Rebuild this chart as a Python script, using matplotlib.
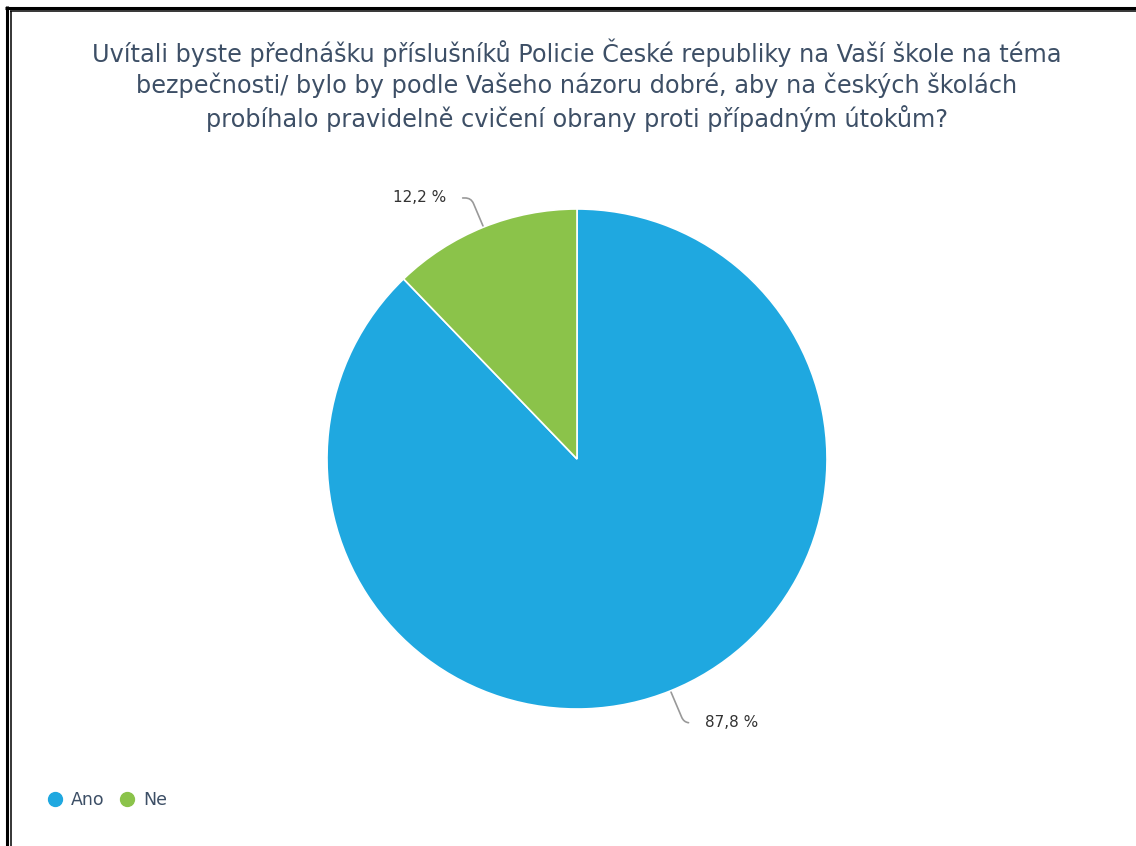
import numpy as np
import matplotlib.pyplot as plt
from matplotlib.lines import Line2D

# data
labels = ["Ano", "Ne"]
values = [87.8, 12.2]
colors = ["#1fa8e0", "#8bc34a"]
label_offsets = [(25, -23), (-27, 21)]   # text offsets in points

title = ("Uvítali byste přednášku příslušníků Policie České republiky na Vaší škole na téma\n"
         "bezpečnosti/ bylo by podle Vašeho názoru dobré, aby na českých školách\n"
         "probíhalo pravidelně cvičení obrany proti případným útokům?")
text_color = "#3d4f66"

W, H = 1136, 846
fig = plt.figure(figsize=(W / 100, H / 100), dpi=100)
fig.patch.set_facecolor("white")

# pie axes: centre ~ (577, 459) px, radius 250 px
ax = fig.add_axes([327 / W, (H - 709) / H, 500 / W, 500 / H])
wedges, _ = ax.pie(values, colors=colors, startangle=90, counterclock=False,
                   radius=1, wedgeprops=dict(edgecolor="white", linewidth=1.2))
ax.set_xlim(-1, 1)
ax.set_ylim(-1, 1)
ax.set_aspect("equal")
ax.axis("off")

for w, v, off in zip(wedges, values, label_offsets):
    ang = np.deg2rad((w.theta1 + w.theta2) / 2)
    xy = (np.cos(ang), np.sin(ang))
    ha = "left" if off[0] > 0 else "right"
    ax.annotate(f"{v:.1f} %".replace(".", ","), xy=xy, xytext=off,
                textcoords="offset points", ha=ha, va="center",
                fontsize=11, color="#333333",
                arrowprops=dict(arrowstyle="-", color="#999999", lw=1.2,
                                shrinkA=10, shrinkB=1,
                                relpos=(0, 0.5) if ha == "left" else (1, 0.5),
                                connectionstyle="angle,angleA=0,angleB=113,rad=6"))

fig.text(577 / W, 1 - 85 / H, title, ha="center", va="center",
         fontsize=17.3, color=text_color, linespacing=1.3)

handles = [Line2D([], [], marker="o", linestyle="none", markersize=10,
                  markerfacecolor=c, markeredgecolor=c) for c in colors]
fig.legend(handles, labels, loc="center left", bbox_to_anchor=(29 / W, 1 - 800 / H),
           ncol=2, frameon=False, fontsize=12.5, labelcolor=text_color,
           handletextpad=0.3, columnspacing=0.72, handlelength=1.2)

# double frame on top and left edges
k = dict(color="black", transform=fig.transFigure, solid_capstyle="butt")
fig.add_artist(Line2D([5 / W, 1], [1 - 8 / H, 1 - 8 / H], lw=2.2, **k))
fig.add_artist(Line2D([6.5 / W, 6.5 / W], [0, 1 - 6.5 / H], lw=2.2, **k))
fig.add_artist(Line2D([9.75 / W, 1], [1 - 11.5 / H, 1 - 11.5 / H], lw=1.1, **k))
fig.add_artist(Line2D([10.5 / W, 10.5 / W], [0, 1 - 10.75 / H], lw=1.1, **k))

fig.savefig("out.png", dpi=100)
